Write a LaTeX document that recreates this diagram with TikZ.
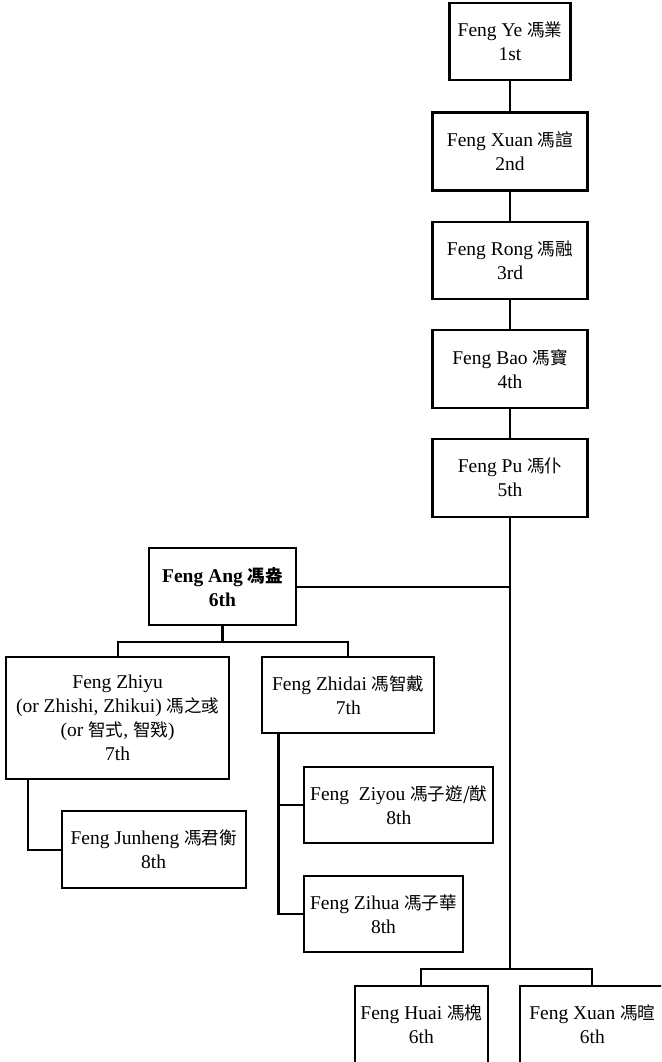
\documentclass[tikz,border=0pt]{standalone}
\usepackage{fontspec}
\setmainfont{Liberation Serif}
\newfontfamily\cjk{Noto Sans CJK TC}[Scale=0.9]
\newcommand{\zh}[1]{{\cjk #1}}
\usetikzlibrary{calc}
\tikzset{
  person/.style={draw, line width=2.1pt, align=center, inner sep=0pt,
    font=\fontsize{19.5}{24}\selectfont, minimum width=#1},
  person/.default=154pt,
  conn/.style={line width=2.1pt}
}
\begin{document}
\begin{tikzpicture}[x=1pt,y=-1pt]
\useasboundingbox (0,0) rectangle (661,1062);
\clip (0,0) rectangle (661,1062);
% main line
\node[person=121pt, minimum height=77pt] (ye) at (510,41.7) {Feng Ye \zh{馮業}\\1st};
\node[person=155pt, minimum height=78pt] (xuan) at (510,151.5) {Feng Xuan \zh{馮諠}\\2nd};
\node[person=155pt, minimum height=77.6pt] (rong) at (510,260.5) {Feng Rong \zh{馮融}\\3rd};
\node[person=155pt, minimum height=77.6pt] (bao) at (510,368.9) {Feng Bao \zh{馮寶}\\4th};
\node[person=155pt, minimum height=78pt] (pu) at (510,477.7) {Feng Pu \zh{馮仆}\\5th};
% 6th generation
\node[person=146.4pt, minimum height=76.7pt, font=\fontsize{19.5}{24}\selectfont\bfseries] (ang) at (222.5,586.7) {Feng Ang \zh{馮盎}\\6th};
\node[person=132.7pt, minimum height=77pt] (huai) at (421.3,1024.2) {Feng Huai \zh{馮槐}\\6th};
\node[person=144.6pt, minimum height=77pt] (xuanb) at (592.3,1024.2) {Feng Xuan \zh{馮暄}\\6th};
% 7th generation
\node[person=223.3pt, minimum height=122.6pt] (zhiyu) at (117.7,718) {Feng Zhiyu\\(or Zhishi, Zhikui) \zh{馮之彧}\\(or \zh{智式}, \zh{智戣})\\7th};
\node[person=172pt, minimum height=76.6pt] (zhidai) at (348.3,695) {Feng Zhidai \zh{馮智戴}\\7th};
% 8th generation
\node[person=184pt, minimum height=77.3pt] (junheng) at (153.7,849.7) {Feng Junheng \zh{馮君衡}\\8th};
\node[person=189pt, minimum height=76.6pt] (ziyou) at (398.8,805) {Feng\ \ Ziyou \zh{馮子遊/猷}\\8th};
\node[person=158.4pt, minimum height=76pt] (zihua) at (383.5,914) {Feng Zihua \zh{馮子華}\\8th};
% connectors
\coordinate (trunkend) at (510,969.3);
\coordinate (angbar) at (222.5,642);
\coordinate (zy) at ($(zhiyu.south west)+(23.3,0)$);
\coordinate (zd) at ($(zhidai.south west)+(17.2,0)$);
\draw[conn] (ye.south) -- (xuan.north);
\draw[conn] (xuan.south) -- (rong.north);
\draw[conn] (rong.south) -- (bao.north);
\draw[conn] (bao.south) -- (pu.north);
\draw[conn] (pu.south) -- (trunkend);
\draw[conn] (ang.east) -- (ang.east -| trunkend);
\draw[conn] (ang.south) -- (angbar);
\draw[conn] (zhiyu.north) -- (zhiyu.north |- angbar) -- (zhidai.north |- angbar) -- (zhidai.north);
\draw[conn] (zy) |- (junheng.west);
\draw[conn] (zd) |- (zihua.west);
\draw[conn] (zd |- ziyou.west) -- (ziyou.west);
\draw[conn] (huai.north) -- (huai.north |- trunkend) -- (xuanb.north |- trunkend) -- (xuanb.north);
\end{tikzpicture}
\end{document}
